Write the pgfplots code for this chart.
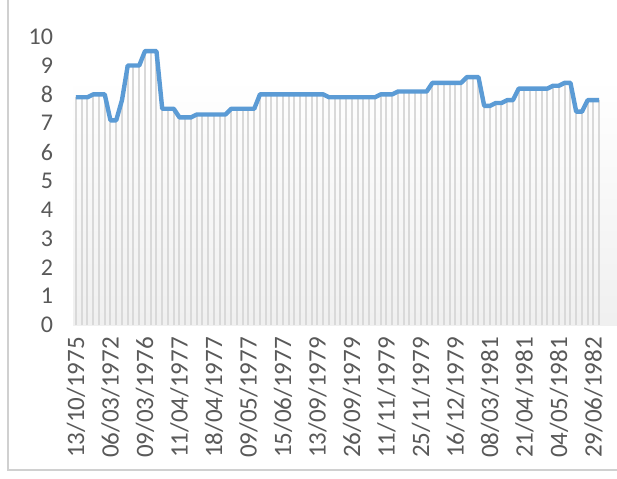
\documentclass[border=0pt]{standalone}
\usepackage{pgfplots}
\pgfplotsset{compat=1.18}
\usepackage{pgfplotstable}
\usepackage{fontspec}
\setmainfont{Carlito}
\definecolor{lineblue}{HTML}{5B9BD5}
\definecolor{dropgray}{HTML}{D9D9D9}
\definecolor{labgray}{HTML}{595959}
\definecolor{framegray}{HTML}{D0D0D0}
\pgfplotstableread{
x y
0 7.9
1 7.9
2 7.9
3 8.0
4 8.0
5 8.0
6 7.1
7 7.1
8 7.8
9 9.0
10 9.0
11 9.0
12 9.5
13 9.5
14 9.5
15 7.5
16 7.5
17 7.5
18 7.2
19 7.2
20 7.2
21 7.3
22 7.3
23 7.3
24 7.3
25 7.3
26 7.3
27 7.5
28 7.5
29 7.5
30 7.5
31 7.5
32 8.0
33 8.0
34 8.0
35 8.0
36 8.0
37 8.0
38 8.0
39 8.0
40 8.0
41 8.0
42 8.0
43 8.0
44 7.9
45 7.9
46 7.9
47 7.9
48 7.9
49 7.9
50 7.9
51 7.9
52 7.9
53 8.0
54 8.0
55 8.0
56 8.1
57 8.1
58 8.1
59 8.1
60 8.1
61 8.1
62 8.4
63 8.4
64 8.4
65 8.4
66 8.4
67 8.4
68 8.6
69 8.6
70 8.6
71 7.6
72 7.6
73 7.7
74 7.7
75 7.8
76 7.8
77 8.2
78 8.2
79 8.2
80 8.2
81 8.2
82 8.2
83 8.3
84 8.3
85 8.4
86 8.4
87 7.4
88 7.4
89 7.8
90 7.8
91 7.8
}\data
\begin{document}
\begin{tikzpicture}
\clip (0,0) rectangle (308.5pt,239pt);
\useasboundingbox (0,0) rectangle (308.5pt,239pt);
\fill[white] (0,0) rectangle (308.5pt,239pt);
\begin{axis}[
  at={(36.55pt,76.5pt)}, anchor=south west,
  scale only axis,
  width=274.56pt, height=144.15pt,
  xmin=-0.5, xmax=95, ymin=0, ymax=10,
  axis lines*=left,
  x axis line style={draw=dropgray, line width=0.8pt},
  y axis line style={draw=none},
  major tick length=0pt,
  ytick={0,1,...,10},
  xtick={0,6,...,90},
  xticklabels={13/10/1975,06/03/1972,09/03/1976,11/04/1977,18/04/1977,09/05/1977,15/06/1977,13/09/1979,26/09/1979,11/11/1979,25/11/1979,16/12/1979,08/03/1981,21/04/1981,04/05/1981,29/06/1982},
  /pgf/number format/assume math mode=true,
  tick label style={font=\fontsize{12}{14}\selectfont, text=labgray},
  yticklabel style={xshift=-6.5pt},
  xticklabel style={font=\fontsize{12.5}{14}\selectfont, rotate=90, anchor=east, xshift=-2.5pt},
  clip=false,
]
\fill[top color=white, bottom color=black!6] (axis cs:-0.5,0) rectangle (axis cs:95,8.6);
\addplot[ycomb, draw=dropgray, line width=1pt, mark=none] table[x=x,y=y] {\data};
\addplot[draw=lineblue, line width=2.2pt, line join=round, mark=none] table[x=x,y=y] {\data};
\end{axis}
\draw[framegray, line width=0.6pt] (4pt,240pt) -- (4pt,4pt) -- (310pt,4pt);
\end{tikzpicture}
\end{document}
